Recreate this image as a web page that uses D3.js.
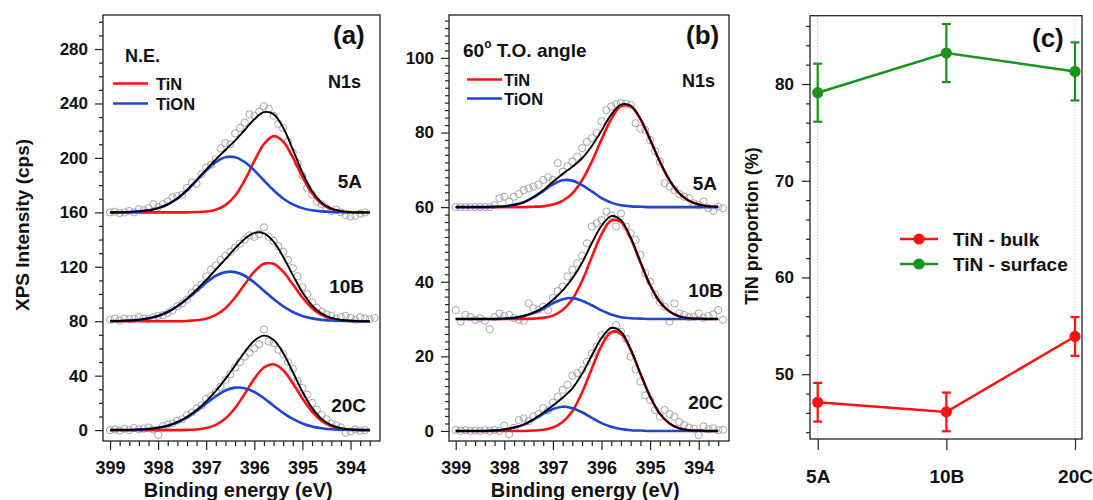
<!DOCTYPE html>
<html>
<head>
<meta charset="utf-8">
<script src="https://cdn.jsdelivr.net/npm/d3@7"></script>
<style>
  body { margin: 0; background: #fff; }
  svg { display: block; }
</style>
</head>
<body>
<svg width="1093" height="500"></svg>
<script>
// **** data ****

// energy grid of the fitted curves (eV) and of the measured scans (eV)
var fitEnergy = [399.0,398.8,398.6,398.4,398.2,398.0,397.8,397.6,397.4,397.2,397.0,396.8,396.6,396.4,
                 396.2,396.0,395.8,395.6,395.4,395.2,395.0,394.8,394.6,394.4,394.2,394.0,393.8,393.6];
var scanEnergy = [399.0,398.9,398.8,398.7,398.6,398.5,398.4,398.3,398.2,398.1,398.0,397.9,397.8,397.7,
                  397.6,397.5,397.4,397.3,397.2,397.1,397.0,396.9,396.8,396.7,396.6,396.5,396.4,396.3,
                  396.2,396.1,396.0,395.9,395.8,395.7,395.6,395.5,395.4,395.3,395.2,395.1,395.0,394.9,
                  394.8,394.7,394.6,394.5,394.4,394.3,394.2,394.1,394.0,393.9,393.8,393.7,393.6,393.5];

var sampleNames = ["5A", "10B", "20C"];

// panel (a) N.E. - stacked offsets and measured counts (cps)
var aOffsets = [160, 80, 0];
var a5A_counts = [160,160.5,159.5,160,161,160,162.5,161.5,163,166,164,166,168,171,172,173,178,182,181,188,
                  193,195,199,207,211,210,218,222,226,232,231,234,238,236,231,225,222,212,204,196,187,178,
                  173,168,166,163,161,162,160,158,157,157.5,159,160];
var a10B_counts = [81,82,80.5,82,81.5,82,83,82,81.5,83,84,84.5,86,88,91,93,96,101,104,107,113,118,121,125,
                   128,131,134,137,140,143,142,144,149,142,139,135,131,125,119,113,105,100,94,90,87,85,84,
                   82,83,84,82.5,81,83,82,81.5,82.5];
var a20C_counts = [0,0.5,-0.5,1,0,1.5,0.5,1,2,0.5,-3.5,3,4,5,7,8,11,13,16,18,23,25,28,32,37,41,46,50,54,57,
                   60,63,74,65,64,59,56,50,45,36,31,26,20,15,11,8,5,3.5,2,-2,-1,0.5,-0.5,0];
// fitted components above each baseline (cps)
var a5A_TiN  = [0,0,0,0,0,0,0,0,0,0.2,0.6,1.9,5.3,12.2,23.5,37.6,50.2,56.0,52.0,40.4,26.2,14.1,6.4,2.4,0.8,0.2,0,0];
var a5A_TiON = [0,0.1,0.3,0.7,1.5,3.1,5.9,10.2,16.2,23.4,30.8,37.0,40.5,40.5,37.0,30.8,23.4,16.2,10.2,5.9,3.1,1.5,0.7,0.3,0.1,0,0,0];
var a5A_fit  = [0,0.1,0.3,0.7,1.5,3.1,5.9,10.2,16.2,23.6,31.4,38.9,45.8,52.7,60.5,68.4,73.6,72.2,62.2,46.3,29.3,15.6,7.1,2.7,0.9,0.2,0,0];
var a10B_TiN  = [0,0,0,0,0,0,0,0,0.2,0.7,1.9,4.6,9.6,17.4,27.1,36.4,42.2,42.2,36.4,27.1,17.4,9.6,4.6,1.9,0.7,0.2,0,0];
var a10B_TiON = [0.1,0.2,0.5,1.0,2.1,3.9,6.8,11.0,16.3,22.4,28.5,33.4,36.1,36.1,33.4,28.5,22.4,16.3,11.0,6.8,3.9,2.1,1.0,0.5,0.2,0.1,0,0];
var a10B_fit  = [0.1,0.2,0.5,1.0,2.1,3.9,6.8,11.0,16.5,23.1,30.4,38.0,45.7,53.5,60.5,64.9,64.6,58.5,47.4,33.9,21.3,11.7,5.6,2.4,0.9,0.3,0,0];
var a20C_TiN  = [0,0,0,0,0,0,0,0,0.2,0.5,1.5,3.9,8.5,16.2,26.6,37.7,46.0,48.4,44.0,34.5,23.3,13.6,6.8,3.0,1.1,0.4,0.1,0];
var a20C_TiON = [0,0.1,0.1,0.4,0.8,1.7,3.2,5.8,9.4,14.2,19.6,24.9,29.1,31.2,30.8,28.0,23.4,17.9,12.7,8.2,4.9,2.7,1.4,0.6,0.3,0.1,0,0];
var a20C_fit  = [0,0.1,0.1,0.4,0.8,1.7,3.2,5.8,9.6,14.7,21.1,28.8,37.6,47.4,57.4,65.7,69.4,66.3,56.7,42.7,28.2,16.3,8.2,3.6,1.4,0.5,0.1,0];

// panel (b) 60 deg take-off angle
var bOffsets = [60, 30, 0];
var b5A_counts = [60,60,60,60,60,60,60,60,60.5,62.4,62.8,61.5,62.8,63.5,64.6,65,65.5,66,67.3,68,67.3,71.8,
                  69.5,71,72.2,73.5,75.8,77.5,78.5,79.9,83,86,87,87.6,87.9,87.7,87.4,82.5,81,80.7,78,75,72.2,
                  66.4,65.5,64.6,63.5,62.8,62.4,61,60.6,61.5,59.7,59,60.1,59.7];
var b10B_counts = [32.4,29.3,31.1,30.5,29.8,30.2,29.5,27.3,30.5,31.5,30.8,31.1,30.3,29.8,29.5,34.2,32.9,32.5,
                   33.3,32.4,35.6,37.5,38.7,41.4,43.2,45,47,50.3,54.8,55.7,56.5,58.8,57.8,54.8,58.3,54.8,53,
                   51.2,47.2,42.3,40,36.5,34.5,33.3,29.3,34.2,31.5,31.1,30.5,30.6,31.5,30.3,30.8,31.2,32.4,29.8];
var b20C_counts = [0.3,0,0.2,0,0.1,0,0.2,0,0.3,0,1.4,-0.9,0.8,2.9,3.4,2.6,3.9,4.5,6.1,5.5,7.6,9.2,11,12.4,
                   14.8,15.5,16.3,18.5,20.8,22.6,25.7,25.3,26.8,28.4,26.6,24.8,19.9,16.5,13.2,9.5,8.3,5.6,3.8,
                   5.6,4.5,3.8,2.4,1.6,0.9,0.6,-1.1,1.2,0.4,0.7,0.2,0.3];
var b5A_TiN  = [0,0,0,0,0,0,0,0,0.1,0.2,0.7,1.7,3.7,7.2,12.2,18.1,23.6,27.0,27.0,23.6,18.1,12.2,7.2,3.7,1.7,0.7,0.2,0.1];
var b5A_TiON = [0,0,0,0,0.1,0.2,0.6,1.3,2.6,4.3,6.1,7.2,7.1,5.9,4.2,2.4,1.2,0.5,0.2,0.1,0,0,0,0,0,0,0,0];
var b5A_fit  = [0,0,0,0,0.1,0.2,0.6,1.3,2.7,4.5,6.8,8.9,10.8,13.1,16.4,20.5,24.8,27.5,27.2,23.7,18.1,12.2,7.2,3.7,1.7,0.7,0.2,0.1];
var b10B_TiN  = [0,0,0,0,0,0,0,0,0.1,0.3,0.9,2.4,5.3,10.2,16.6,22.7,26.4,26.0,21.6,15.2,9.1,4.6,2.0,0.7,0.2,0.1,0,0];
var b10B_TiON = [0,0,0,0,0,0.1,0.3,0.8,1.6,2.8,4.2,5.3,5.6,4.9,3.7,2.3,1.2,0.5,0.2,0.1,0,0,0,0,0,0,0,0];
var b10B_fit  = [0,0,0,0,0,0.1,0.3,0.8,1.7,3.1,5.1,7.7,10.9,15.1,20.3,25.0,27.6,26.5,21.8,15.3,9.1,4.6,2.0,0.7,0.2,0.1,0,0];
var b20C_TiN  = [0,0,0,0,0,0,0,0,0.1,0.3,0.9,2.4,5.3,10.3,16.7,22.8,26.5,26.1,21.7,15.3,9.2,4.6,2.0,0.7,0.2,0.1,0,0];
var b20C_TiON = [0,0,0,0,0.1,0.4,0.9,1.7,3.0,4.6,5.9,6.5,6.1,5.0,3.5,2.1,1.1,0.5,0.2,0.1,0,0,0,0,0,0,0,0];
var b20C_fit  = [0,0,0,0,0.1,0.4,0.9,1.7,3.1,4.9,6.8,8.9,11.4,15.3,20.2,24.9,27.6,26.6,21.9,15.4,9.2,4.6,2.0,0.7,0.2,0.1,0,0];

// panel (c) TiN proportion (%)
var bulkValue = [47.1, 46.1, 53.9];
var bulkError = [2.0, 2.0, 2.0];
var surfaceValue = [79.1, 83.2, 81.3];
var surfaceError = [3.0, 3.0, 3.0];

// tick labels
var aYTicks = [0, 40, 80, 120, 160, 200, 240, 280];
var bYTicks = [0, 20, 40, 60, 80, 100];
var cYTicks = [50, 60, 70, 80];
var eTicks = [399, 398, 397, 396, 395, 394];

// **** drawing ****

var FONT = '"Liberation Sans", Arial, sans-serif';
var RED = "#ff1010", BLUE = "#1c45d2", GREEN = "#17941b", INK = "#111";
var svg = d3.select("svg");

function styleAxis(g, size) {
    g.attr("font-family", FONT).attr("font-size", size).attr("font-weight", "bold");
    g.select(".domain").remove();
    g.selectAll("line").attr("stroke", "#222").attr("stroke-width", 1.2);
    g.selectAll("text").attr("fill", INK);
}

function label(x, y, txt, size, anchor) {
    return svg.append("text").attr("x", x).attr("y", y).text(txt)
        .attr("font-family", FONT).attr("font-weight", "bold")
        .attr("font-size", size).attr("fill", INK)
        .attr("text-anchor", anchor || "start");
}

function frame(l, t, r, b) {
    svg.append("rect").attr("x", l).attr("y", t).attr("width", r - l).attr("height", b - t)
        .attr("fill", "none").attr("stroke", "#222").attr("stroke-width", 1.3);
}

function spectraPanel(p) {
    var x = d3.scaleLinear().domain(p.eDomain).range([p.left, p.right]);
    var y = d3.scaleLinear().domain(p.yDomain).range([p.bottom, p.top]);
    var g = svg.append("g");

    p.spectra.forEach(function(s) {
        g.append("g").selectAll("circle")
            .data(s.counts)
            .enter()
            .append("circle")
            .attr("cx", function(d, i) { return x(scanEnergy[i]); })
            .attr("cy", function(d) { return y(d); })
            .attr("r", 3.6)
            .attr("fill", "none")
            .attr("stroke", "#a6a6a6")
            .attr("stroke-width", 1);
    });

    p.spectra.forEach(function(s) {
        var line = d3.line()
            .x(function(d, i) { return x(fitEnergy[i]); })
            .y(function(d) { return y(d + s.offset); })
            .curve(d3.curveCatmullRom.alpha(0.5));
        g.append("path").attr("d", line(s.tin)).attr("fill", "none")
            .attr("stroke", RED).attr("stroke-width", 2.6);
        g.append("path").attr("d", line(s.tion)).attr("fill", "none")
            .attr("stroke", BLUE).attr("stroke-width", 2.6);
        g.append("path").attr("d", line(s.fit)).attr("fill", "none")
            .attr("stroke", "#000").attr("stroke-width", 1.9);
    });

    var yMinor = d3.range(0, p.yMinorMax + 0.01, p.yMinorStep)
        .filter(function(v) { return p.yTicks.indexOf(v) < 0; });
    svg.append("g").attr("transform", "translate(" + p.left + ",0)")
        .call(d3.axisLeft(y).tickValues(yMinor).tickSize(4).tickFormat(""))
        .call(styleAxis, 17);
    svg.append("g").attr("transform", "translate(" + p.left + ",0)")
        .call(d3.axisLeft(y).tickValues(p.yTicks).tickSize(8).tickPadding(7).tickFormat(d3.format("d")))
        .call(styleAxis, 17);

    var eMinor = d3.range(0, 28).map(function(k) { return Math.round((399 - 0.2 * k) * 10) / 10; })
        .filter(function(v) { return v > p.eDomain[1] && eTicks.indexOf(v) < 0; });
    svg.append("g").attr("transform", "translate(0," + p.bottom + ")")
        .call(d3.axisBottom(x).tickValues(eMinor).tickSize(5).tickFormat(""))
        .call(styleAxis, 18);
    svg.append("g").attr("transform", "translate(0," + p.bottom + ")")
        .call(d3.axisBottom(x).tickValues(eTicks).tickSize(9).tickPadding(11).tickFormat(d3.format("d")))
        .call(styleAxis, 18);

    frame(p.left, p.top, p.right, p.bottom);
    label((x(399) + x(394)) / 2 + 8, 497, "Binding energy (eV)", 20, "middle");
}

// panel (a)
spectraPanel({
    left: 103, right: 380, top: 15, bottom: 441,
    eDomain: [399.146, 393.387], yDomain: [-8, 305],
    yTicks: aYTicks, yMinorStep: 10, yMinorMax: 300,
    spectra: [
        {offset: aOffsets[0], counts: a5A_counts, tin: a5A_TiN, tion: a5A_TiON, fit: a5A_fit},
        {offset: aOffsets[1], counts: a10B_counts, tin: a10B_TiN, tion: a10B_TiON, fit: a10B_fit},
        {offset: aOffsets[2], counts: a20C_counts, tin: a20C_TiN, tion: a20C_TiON, fit: a20C_fit}
    ]
});

// panel (b)
spectraPanel({
    left: 449, right: 729, top: 15, bottom: 441,
    eDomain: [399.138, 393.377], yDomain: [-2.7, 111.5],
    yTicks: bYTicks, yMinorStep: 2, yMinorMax: 110,
    spectra: [
        {offset: bOffsets[0], counts: b5A_counts, tin: b5A_TiN, tion: b5A_TiON, fit: b5A_fit},
        {offset: bOffsets[1], counts: b10B_counts, tin: b10B_TiN, tion: b10B_TiON, fit: b10B_fit},
        {offset: bOffsets[2], counts: b20C_counts, tin: b20C_TiN, tion: b20C_TiON, fit: b20C_fit}
    ]
});

svg.append("text").text("XPS Intensity (cps)")
    .attr("transform", "translate(29,225) rotate(-90)")
    .attr("text-anchor", "middle").attr("font-family", FONT)
    .attr("font-weight", "bold").attr("font-size", 19).attr("fill", INK);

// annotations (a)
label(333, 44, "(a)", 26);
label(125, 62, "N.E.", 18);
label(361, 88, "N1s", 18, "end");
label(362, 188, "5A", 19, "end");
label(364, 293, "10B", 19, "end");
label(366, 412, "20C", 19, "end");
svg.append("line").attr("x1", 113).attr("x2", 148).attr("y1", 83.5).attr("y2", 83.5)
    .attr("stroke", RED).attr("stroke-width", 2.6);
svg.append("line").attr("x1", 113).attr("x2", 148).attr("y1", 103.5).attr("y2", 103.5)
    .attr("stroke", BLUE).attr("stroke-width", 2.6);
label(156, 89.5, "TiN", 16.5);
label(156, 109.5, "TiON", 16.5);

// annotations (b)
label(686, 44, "(b)", 26);
var angle = label(463, 57, "60", 19);
angle.append("tspan").attr("font-size", 12).attr("dy", -9).text("o");
angle.append("tspan").attr("dy", 9).text(" T.O. angle");
label(715, 87, "N1s", 18, "end");
label(717, 190, "5A", 19, "end");
label(723, 297, "10B", 19, "end");
label(723, 409, "20C", 19, "end");
svg.append("line").attr("x1", 467).attr("x2", 502).attr("y1", 79.5).attr("y2", 79.5)
    .attr("stroke", RED).attr("stroke-width", 2.6);
svg.append("line").attr("x1", 467).attr("x2", 502).attr("y1", 98.5).attr("y2", 98.5)
    .attr("stroke", BLUE).attr("stroke-width", 2.6);
label(504, 85.5, "TiN", 16.5);
label(504, 104.5, "TiON", 16.5);

// panel (c)
var cLeft = 810, cRight = 1082, cTop = 15.7, cBottom = 439;
var xc = d3.scalePoint().domain(sampleNames).range([817.7, 1075]);
var yc = d3.scaleLinear().domain([43.3, 87.06]).range([cBottom, cTop]);

[sampleNames[0], sampleNames[2]].forEach(function(s) {
    svg.append("line").attr("x1", xc(s)).attr("x2", xc(s)).attr("y1", cTop).attr("y2", cBottom)
        .attr("stroke", "#a8a8ff").attr("stroke-width", 1).attr("stroke-dasharray", "1,2");
});

var cMinor = d3.range(44, 87, 2).filter(function(v) { return cYTicks.indexOf(v) < 0; });
svg.append("g").attr("transform", "translate(" + cLeft + ",0)")
    .call(d3.axisLeft(yc).tickValues(cMinor).tickSize(4).tickFormat(""))
    .call(styleAxis, 17);
svg.append("g").attr("transform", "translate(" + cLeft + ",0)")
    .call(d3.axisLeft(yc).tickValues(cYTicks).tickSize(8).tickPadding(8).tickFormat(d3.format("d")))
    .call(styleAxis, 17);
svg.append("g").attr("transform", "translate(0," + cBottom + ")")
    .call(d3.axisBottom(xc).tickSize(11).tickPadding(20))
    .call(styleAxis, 19);
frame(cLeft, cTop, cRight, cBottom);

function series(values, errors, color) {
    var g = svg.append("g");
    var line = d3.line()
        .x(function(d, i) { return xc(sampleNames[i]); })
        .y(function(d) { return yc(d); });
    g.append("path").attr("d", line(values)).attr("fill", "none")
        .attr("stroke", color).attr("stroke-width", 2.5);
    var bars = g.selectAll("g.err").data(values).enter().append("g");
    bars.append("line")
        .attr("x1", function(d, i) { return xc(sampleNames[i]); })
        .attr("x2", function(d, i) { return xc(sampleNames[i]); })
        .attr("y1", function(d, i) { return yc(d + errors[i]); })
        .attr("y2", function(d, i) { return yc(d - errors[i]); })
        .attr("stroke", color).attr("stroke-width", 2.2);
    [1, -1].forEach(function(sgn) {
        bars.append("line")
            .attr("x1", function(d, i) { return xc(sampleNames[i]) - 4.5; })
            .attr("x2", function(d, i) { return xc(sampleNames[i]) + 4.5; })
            .attr("y1", function(d, i) { return yc(d + sgn * errors[i]); })
            .attr("y2", function(d, i) { return yc(d + sgn * errors[i]); })
            .attr("stroke", color).attr("stroke-width", 2.2);
    });
    g.selectAll("circle").data(values).enter().append("circle")
        .attr("cx", function(d, i) { return xc(sampleNames[i]); })
        .attr("cy", function(d) { return yc(d); })
        .attr("r", 5.6).attr("fill", color);
}
series(surfaceValue, surfaceError, GREEN);
series(bulkValue, bulkError, RED);

// legend (c)
[["TiN - bulk", RED, 239], ["TiN - surface", GREEN, 264]].forEach(function(e) {
    svg.append("line").attr("x1", 900).attr("x2", 938).attr("y1", e[2]).attr("y2", e[2])
        .attr("stroke", e[1]).attr("stroke-width", 2.5);
    svg.append("circle").attr("cx", 919).attr("cy", e[2]).attr("r", 5.6).attr("fill", e[1]);
    label(953, e[2] + 6.5, e[0], 19);
});

label(1032, 47, "(c)", 26);

svg.append("text").text("TiN proportion (%)")
    .attr("transform", "translate(758,226) rotate(-90)")
    .attr("text-anchor", "middle").attr("font-family", FONT)
    .attr("font-weight", "bold").attr("font-size", 18).attr("fill", INK);
</script>
</body>
</html>
